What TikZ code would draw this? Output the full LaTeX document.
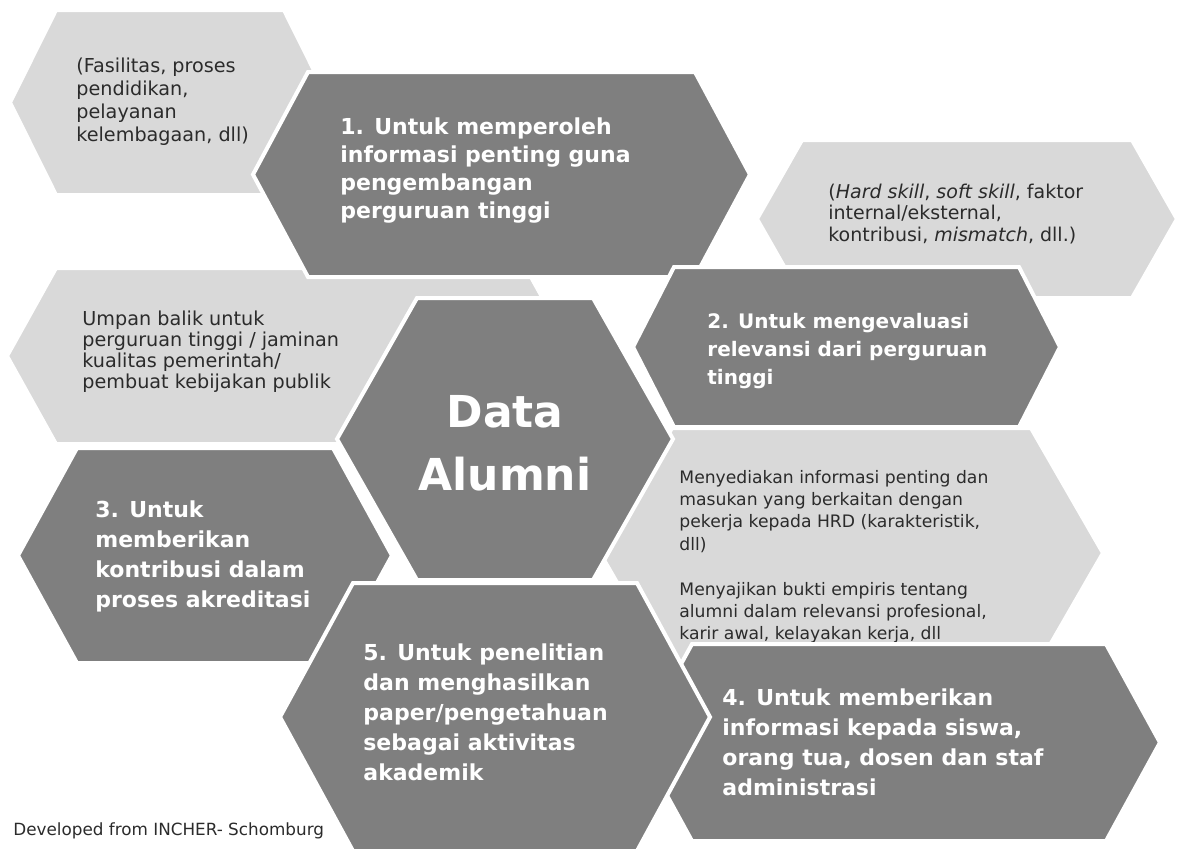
\documentclass[tikz,border=0pt]{standalone}
\usepackage{fontspec}
\setmainfont{DejaVu Sans}
\usepackage{xcolor}

\definecolor{hexdark}{HTML}{7F7F7F}
\definecolor{hexlight}{HTML}{D9D9D9}
\definecolor{notegray}{HTML}{2B2B2B}

\tikzset{
	darkhex/.style = {fill=hexdark, draw=white, line width=2pt},
	lighthex/.style = {fill=hexlight, draw=white, line width=2pt},
	goaltext/.style = {anchor=base west, inner sep=0pt, text=white},
	notetext/.style = {anchor=base west, inner sep=0pt, text=notegray},
}

% hexagon: style, left tip x, right tip x, top y, bottom y, slant
\newcommand{\hexa}[6]{%
	\draw [#1] (#2,{(#4+#5)/2}) -- ({#2+#6},#4) -- ({#3-#6},#4)
		-- (#3,{(#4+#5)/2}) -- ({#3-#6},#5) -- ({#2+#6},#5) -- cycle;
}
\newcommand{\fsize}[2]{\fontsize{#1}{#2}\selectfont}
\newcommand{\lines}[1]{\parbox[t]{190pt}{\raggedright #1}}

\begin{document}
\begin{tikzpicture}[x=0.5pt, y=-0.5pt]
	\useasboundingbox (0,0) rectangle (1183,848);

	% light hexagons with notes
	\hexa{lighthex}{10}{330}{10}{195}{46}
	\node [notetext, font=\fsize{9.6}{11.65}] (fasilitas) at (76,72)
		{\lines{(Fasilitas, proses\\pendidikan,\\pelayanan\\kelembagaan, dll)}};

	\hexa{lighthex}{757}{1177}{140}{298}{45}
	\node [notetext, font=\fsize{9.5}{10.85}] (skill) at (828,198)
		{\lines{(\textit{Hard skill}, \textit{soft skill}, faktor\\internal/eksternal,\\kontribusi, \textit{mismatch}, dll.)}};

	\hexa{lighthex}{7}{575}{268}{444}{49}
	\node [notetext, font=\fsize{9.6}{10.5}] (umpan) at (82,325)
		{\lines{Umpan balik untuk\\perguruan tinggi / jaminan\\kualitas pemerintah/\\pembuat kebijakan publik}};

	\hexa{lighthex}{600}{1103}{428}{678}{72}
	\node [notetext, font=\fsize{8.6}{11.2}] (hrd) at (679,483)
		{\lines{Menyediakan informasi penting dan\\masukan yang berkaitan dengan\\pekerja kepada HRD (karakteristik,\\dll)\\[11.2pt]Menyajikan bukti empiris tentang\\alumni dalam relevansi profesional,\\karir awal, kelayakan kerja, dll}};

	% dark hexagons with goals
	\hexa{darkhex}{253}{750}{72}{277}{55}
	\node [goaltext, font=\fsize{11}{14.15}\bfseries] (goal1) at (340,134)
		{\lines{1. Untuk memperoleh\\informasi penting guna\\pengembangan\\perguruan tinggi}};

	\hexa{darkhex}{633}{1060}{267}{427}{41}
	\node [goaltext, font=\fsize{10}{14.15}\bfseries] (goal2) at (707,328)
		{\lines{2. Untuk mengevaluasi\\relevansi dari perguruan\\tinggi}};

	\hexa{darkhex}{18}{392}{448}{663}{59}
	\node [goaltext, font=\fsize{11}{15}\bfseries] (goal3) at (95,517)
		{\lines{3. Untuk\\memberikan\\kontribusi dalam\\proses akreditasi}};

	\hexa{darkhex}{337}{673}{298}{580}{80}
	\node [anchor=base, inner sep=0pt, text=white, font=\fsize{22}{31.5}\bfseries] (alumni) at (505,427)
		{\parbox[t]{110pt}{\centering Data\\Alumni}};

	\hexa{darkhex}{638}{1160}{644}{841}{54}
	\node [goaltext, font=\fsize{11}{15}\bfseries] (goal4) at (722,705)
		{\lines{4. Untuk memberikan\\informasi kepada siswa,\\orang tua, dosen dan staf\\administrasi}};

	\hexa{darkhex}{280}{710}{583}{851}{73}
	\node [goaltext, font=\fsize{11}{15}\bfseries] (goal5) at (363,660)
		{\lines{5. Untuk penelitian\\dan menghasilkan\\paper/pengetahuan\\sebagai aktivitas\\akademik}};

	% source
	\node [notetext, font=\fsize{8.4}{10}] (source) at (13,835) {Developed from INCHER- Schomburg};
\end{tikzpicture}
\end{document}
